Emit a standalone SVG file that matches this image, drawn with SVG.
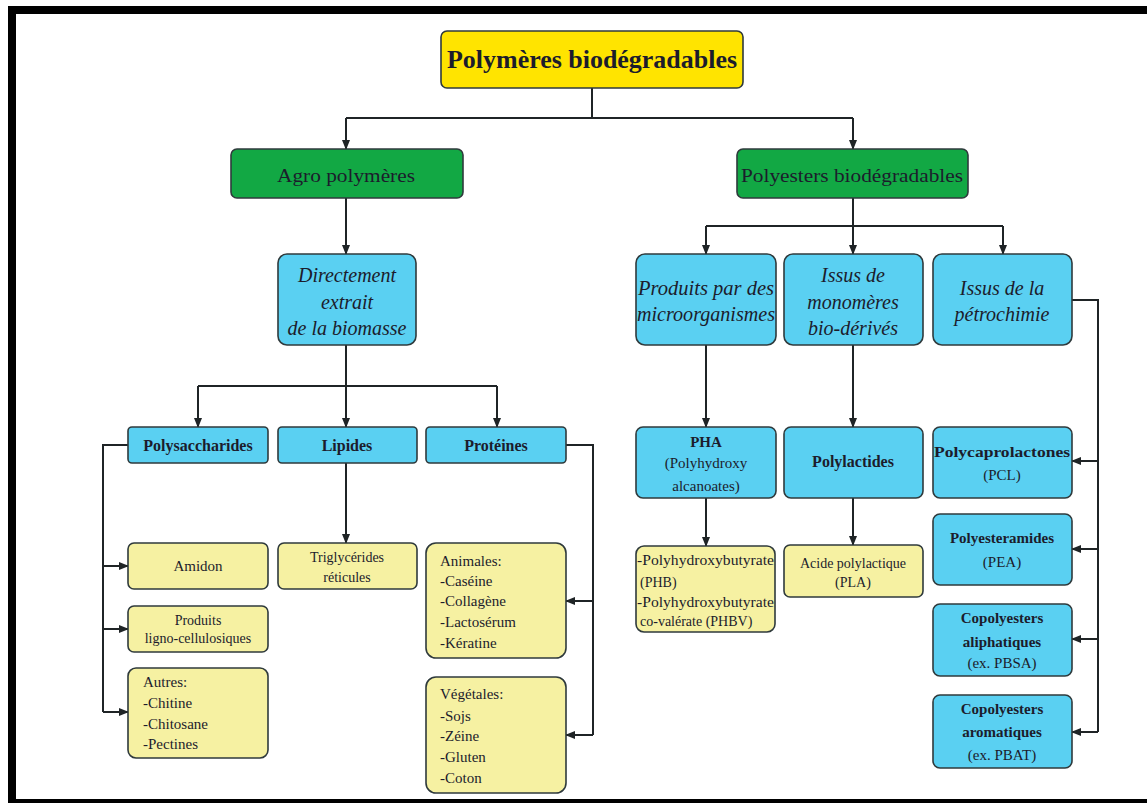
<svg xmlns="http://www.w3.org/2000/svg" width="1147" height="803" viewBox="0 0 1147 803">
  <style>
    .box { stroke: #2f3a3c; stroke-width: 1.6; }
    .yel { fill: #ffe400; }
    .grn { fill: #12a844; }
    .blu { fill: #5ad0f2; }
    .pal { fill: #f6f1a2; }
    text { font-family: "Liberation Serif", "Times New Roman", serif; fill: #1c1c2c; }
    .c { text-anchor: middle; }
    .b { font-weight: bold; }
    .i { font-style: italic; }
    .conn { fill: none; stroke: #1f2426; stroke-width: 2; }
  </style>
  <defs>
    <marker id="arr" markerUnits="userSpaceOnUse" markerWidth="10" markerHeight="10" refX="9" refY="5" orient="auto">
      <path d="M0,1 L10,5 L0,9 z" fill="#1f2426"/>
    </marker>
  </defs>

  <rect width="1147" height="803" fill="#ffffff"/>
  <!-- page frame -->
  <g id="frame" fill="#000">
    <rect x="8" y="6" width="1139" height="8"/>
    <rect x="8" y="6" width="8" height="797"/>
    <rect x="8" y="799" width="1139" height="4"/>
  </g>

  <!-- connectors -->
  <g id="connectors" class="conn">
    <path d="M592,88 V118"/>
    <path d="M346,118 H853"/>
    <path d="M346,118 V149" marker-end="url(#arr)"/>
    <path d="M853,118 V149" marker-end="url(#arr)"/>
    <path d="M346,198 V254" marker-end="url(#arr)"/>
    <path d="M346,345 V386"/>
    <path d="M198,386 H497"/>
    <path d="M198,386 V427" marker-end="url(#arr)"/>
    <path d="M346,386 V427" marker-end="url(#arr)"/>
    <path d="M497,386 V427" marker-end="url(#arr)"/>
    <path d="M128,445 H103 V712"/>
    <path d="M103,566 H128" marker-end="url(#arr)"/>
    <path d="M103,629 H128" marker-end="url(#arr)"/>
    <path d="M103,712 H128" marker-end="url(#arr)"/>
    <path d="M346,463 V543" marker-end="url(#arr)"/>
    <path d="M566,445 H593 V735"/>
    <path d="M593,601 H566" marker-end="url(#arr)"/>
    <path d="M593,735 H566" marker-end="url(#arr)"/>
    <path d="M853,198 V226"/>
    <path d="M706,226 H1003"/>
    <path d="M706,226 V254" marker-end="url(#arr)"/>
    <path d="M853,226 V254" marker-end="url(#arr)"/>
    <path d="M1003,226 V254" marker-end="url(#arr)"/>
    <path d="M706,345 V427" marker-end="url(#arr)"/>
    <path d="M853,345 V427" marker-end="url(#arr)"/>
    <path d="M706,498 V546" marker-end="url(#arr)"/>
    <path d="M853,498 V545" marker-end="url(#arr)"/>
    <path d="M1072,300 H1098 V732"/>
    <path d="M1098,461 H1072" marker-end="url(#arr)"/>
    <path d="M1098,549 H1072" marker-end="url(#arr)"/>
    <path d="M1098,639 H1072" marker-end="url(#arr)"/>
    <path d="M1098,732 H1072" marker-end="url(#arr)"/>
  </g>

  <!-- root -->
  <g id="root">
    <rect class="box yel" x="441" y="31" width="302" height="57" rx="6"/>
    <text class="c b" x="592" y="68" font-size="25" textLength="290" lengthAdjust="spacingAndGlyphs">Polymères biodégradables</text>
  </g>

  <!-- level 1 -->
  <g id="agro">
    <rect class="box grn" x="231" y="149" width="232" height="49" rx="6"/>
    <text class="c" x="346" y="182" font-size="18" textLength="138" lengthAdjust="spacingAndGlyphs">Agro polymères</text>
  </g>
  <g id="polyesters">
    <rect class="box grn" x="737" y="149" width="231" height="49" rx="6"/>
    <text class="c" x="852" y="182" font-size="18" textLength="222" lengthAdjust="spacingAndGlyphs">Polyesters biodégradables</text>
  </g>

  <!-- level 2 -->
  <g id="directement">
    <rect class="box blu" x="278" y="254" width="138" height="91" rx="9"/>
    <text class="c i" font-size="20"><tspan x="347" y="282">Directement</tspan><tspan x="347" y="309">extrait</tspan><tspan x="347" y="335">de la biomasse</tspan></text>
  </g>
  <g id="microorganismes">
    <rect class="box blu" x="636" y="254" width="140" height="91" rx="9"/>
    <text class="c i" font-size="20"><tspan x="706" y="295" textLength="136" lengthAdjust="spacingAndGlyphs">Produits par des</tspan><tspan x="706" y="321" textLength="138" lengthAdjust="spacingAndGlyphs">microorganismes</tspan></text>
  </g>
  <g id="biodérivés">
    <rect class="box blu" x="784" y="254" width="139" height="91" rx="9"/>
    <text class="c i" font-size="20"><tspan x="853" y="282">Issus de</tspan><tspan x="853" y="309">monomères</tspan><tspan x="853" y="335">bio-dérivés</tspan></text>
  </g>
  <g id="pétrochimie">
    <rect class="box blu" x="933" y="254" width="139" height="91" rx="9"/>
    <text class="c i" font-size="20"><tspan x="1002" y="295">Issus de la</tspan><tspan x="1002" y="321">pétrochimie</tspan></text>
  </g>

  <!-- level 3 -->
  <g id="polysaccharides">
    <rect class="box blu" x="128" y="427" width="140" height="36" rx="4"/>
    <text class="c b" x="198" y="451" font-size="16">Polysaccharides</text>
  </g>
  <g id="lipides">
    <rect class="box blu" x="278" y="427" width="139" height="36" rx="4"/>
    <text class="c b" x="347" y="451" font-size="16">Lipides</text>
  </g>
  <g id="protéines">
    <rect class="box blu" x="426" y="427" width="140" height="36" rx="4"/>
    <text class="c b" x="496" y="451" font-size="16">Protéines</text>
  </g>
  <g id="pha">
    <rect class="box blu" x="636" y="427" width="140" height="71" rx="7"/>
    <text class="c" font-size="15"><tspan class="b" x="706" y="447">PHA</tspan><tspan x="706" y="468">(Polyhydroxy</tspan><tspan x="706" y="491">alcanoates)</tspan></text>
  </g>
  <g id="polylactides">
    <rect class="box blu" x="784" y="427" width="139" height="71" rx="7"/>
    <text class="c b" x="853" y="467" font-size="16">Polylactides</text>
  </g>
  <g id="pcl">
    <rect class="box blu" x="933" y="427" width="139" height="71" rx="7"/>
    <text class="c" font-size="15"><tspan class="b" x="1002" y="457" textLength="136" lengthAdjust="spacingAndGlyphs">Polycaprolactones</tspan><tspan x="1002" y="480">(PCL)</tspan></text>
  </g>
  <g id="pea">
    <rect class="box blu" x="933" y="514" width="139" height="71" rx="7"/>
    <text class="c" font-size="15"><tspan class="b" x="1002" y="543">Polyesteramides</tspan><tspan x="1002" y="567">(PEA)</tspan></text>
  </g>
  <g id="pbsa">
    <rect class="box blu" x="933" y="604" width="139" height="72" rx="7"/>
    <text class="c" font-size="15"><tspan class="b" x="1002" y="623">Copolyesters</tspan><tspan class="b" x="1002" y="647">aliphatiques</tspan><tspan x="1002" y="668">(ex. PBSA)</tspan></text>
  </g>
  <g id="pbat">
    <rect class="box blu" x="933" y="695" width="139" height="73" rx="7"/>
    <text class="c" font-size="15"><tspan class="b" x="1002" y="714">Copolyesters</tspan><tspan class="b" x="1002" y="737">aromatiques</tspan><tspan x="1002" y="760">(ex. PBAT)</tspan></text>
  </g>

  <!-- leaves -->
  <g id="amidon">
    <rect class="box pal" x="128" y="543" width="140" height="46" rx="6"/>
    <text class="c" x="198" y="571" font-size="15">Amidon</text>
  </g>
  <g id="ligno">
    <rect class="box pal" x="128" y="606" width="140" height="46" rx="6"/>
    <text class="c" font-size="14"><tspan x="198" y="625">Produits</tspan><tspan x="198" y="643">ligno-cellulosiques</tspan></text>
  </g>
  <g id="autres">
    <rect class="box pal" x="128" y="668" width="140" height="90" rx="8"/>
    <text font-size="15"><tspan x="143" y="687">Autres:</tspan><tspan x="143" y="708">-Chitine</tspan><tspan x="143" y="729">-Chitosane</tspan><tspan x="143" y="749">-Pectines</tspan></text>
  </g>
  <g id="triglycérides">
    <rect class="box pal" x="278" y="543" width="139" height="46" rx="6"/>
    <text class="c" font-size="14"><tspan x="347" y="562">Triglycérides</tspan><tspan x="347" y="582">réticules</tspan></text>
  </g>
  <g id="animales">
    <rect class="box pal" x="426" y="543" width="140" height="115" rx="10"/>
    <text font-size="15"><tspan x="440" y="566">Animales:</tspan><tspan x="440" y="586">-Caséine</tspan><tspan x="440" y="606">-Collagène</tspan><tspan x="440" y="627">-Lactosérum</tspan><tspan x="440" y="648">-Kératine</tspan></text>
  </g>
  <g id="végétales">
    <rect class="box pal" x="426" y="677" width="140" height="116" rx="10"/>
    <text font-size="15"><tspan x="440" y="699">Végétales:</tspan><tspan x="440" y="721">-Sojs</tspan><tspan x="440" y="741">-Zéine</tspan><tspan x="440" y="762">-Gluten</tspan><tspan x="440" y="783">-Coton</tspan></text>
  </g>
  <g id="phb">
    <rect class="box pal" x="636" y="546" width="139" height="86" rx="8"/>
    <text font-size="14"><tspan x="637" y="565" textLength="137" lengthAdjust="spacingAndGlyphs">-Polyhydroxybutyrate</tspan><tspan x="640" y="587">(PHB)</tspan><tspan x="637" y="607" textLength="137" lengthAdjust="spacingAndGlyphs">-Polyhydroxybutyrate</tspan><tspan x="640" y="626">co-valérate (PHBV)</tspan></text>
  </g>
  <g id="pla">
    <rect class="box pal" x="784" y="545" width="139" height="52" rx="6"/>
    <text class="c" font-size="14"><tspan x="853" y="568">Acide polylactique</tspan><tspan x="853" y="587">(PLA)</tspan></text>
  </g>
</svg>
